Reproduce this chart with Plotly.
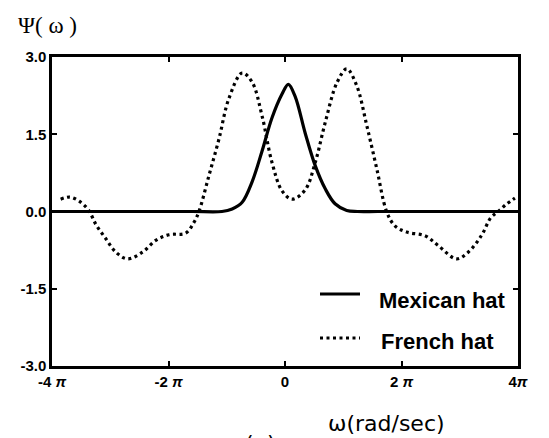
import numpy as np
import plotly.graph_objects as go

PI = np.pi

# Mexican hat spectrum (omega in rad/sec, amplitude)
mexican_w = [-4 * PI, -8.0, -5.0, -3.4, -2.85, -2.31, -1.77, -1.24, -0.70, -0.16,
             0.18, 0.55, 1.09, 1.63, 2.17, 2.70, 3.33, 3.9, 5.0, 8.0, 4 * PI]
mexican_psi = [0.0, 0.0, 0.0, 0.0, 0.05, 0.18, 0.58, 1.17, 1.82, 2.28,
               2.47, 2.23, 1.52, 0.89, 0.44, 0.15, 0.02, 0.0, 0.0, 0.0, 0.0]

# French hat spectrum
french_w = [-12.1, -11.6, -11.1, -10.6, -10.2, -9.66, -9.12, -8.49, -7.69, -6.97,
            -6.25, -5.36, -4.91, -4.64, -4.10, -3.56, -3.03, -2.31, -1.77, -1.24,
            -0.70, -0.16, 0.38, 1.09, 1.63, 2.17, 2.80, 3.33, 3.87, 4.41,
            4.95, 5.48, 5.93, 6.56, 7.54, 8.26, 9.25, 9.88, 10.59, 11.1,
            11.5, 11.9, 12.4]
french_psi = [0.24, 0.28, 0.20, 0.03, -0.25, -0.53, -0.79, -0.92, -0.79, -0.56,
              -0.45, -0.42, -0.21, 0.0, 0.70, 1.41, 2.19, 2.69, 2.51, 1.86,
              0.95, 0.40, 0.24, 0.42, 0.95, 1.73, 2.50, 2.77, 2.44, 1.67,
              0.83, 0.0, -0.28, -0.40, -0.47, -0.66, -0.92, -0.79, -0.47, -0.12,
              0.0, 0.13, 0.26]

x_tickvals = [-4 * PI, -2 * PI, 0, 2 * PI, 4 * PI]
x_ticktext = ["-4 <i>π</i>", "-2 <i>π</i>", "0", "2 <i>π</i>", "4<i>π</i>"]
y_tickvals = [-3.0, -1.5, 0.0, 1.5, 3.0]
y_ticktext = ["-3.0", "-1.5", "0.0", "1.5", "3.0"]

series_names = ["Mexican hat", "French hat"]

W, H = 549, 438
ML, MR, MT, MB = 52, 31, 57, 72
PW, PH = W - ML - MR, H - MT - MB


def px(x):
    return (x - ML) / PW


def py(y):
    return (H - MB - y) / PH


TICK_FONT = dict(family="Liberation Sans, Arial, sans-serif", size=15, color="black", weight="bold")
LEGEND_FONT = dict(family="Liberation Sans, Arial, sans-serif", size=22, color="black", weight="bold")
PSI_FONT = dict(family="Liberation Serif, DejaVu Serif, serif", size=23, color="black")
XTITLE_FONT = dict(family="DejaVu Sans, sans-serif", size=22, color="black")

mexican_line = dict(color="black", width=3.2)
french_line = dict(color="black", width=3.2, dash="3px,3.5px")

fig = go.Figure()
fig.add_trace(go.Scatter(x=mexican_w, y=mexican_psi, mode="lines", name=series_names[0],
                         line=dict(shape="spline", smoothing=1.0, **mexican_line),
                         showlegend=False))
fig.add_trace(go.Scatter(x=french_w, y=french_psi, mode="lines", name=series_names[1],
                         line=dict(shape="spline", smoothing=1.0, **french_line),
                         showlegend=False))

axis_common = dict(showline=True, linecolor="black", linewidth=2.5, mirror="ticks",
                   ticks="inside", ticklen=5, tickwidth=2, tickcolor="black",
                   showgrid=False, zeroline=False, tickfont=TICK_FONT)

fig.update_xaxes(range=[-4 * PI, 4 * PI], tickmode="array", tickvals=x_tickvals,
                 ticktext=x_ticktext, **axis_common)
fig.update_yaxes(range=[-3.0, 3.0], tickmode="array", tickvals=y_tickvals,
                 ticktext=y_ticktext, **axis_common)

# hand-drawn legend in the lower-right corner of the frame
shapes = [
    dict(type="line", xref="paper", yref="paper", x0=px(320), x1=px(360), y0=py(294), y1=py(294),
         line=mexican_line),
    dict(type="line", xref="paper", yref="paper", x0=px(320), x1=px(360), y0=py(338), y1=py(338),
         line=french_line),
]
annotations = [
    dict(text=series_names[0], xref="paper", yref="paper", x=px(377), y=py(300),
         xanchor="left", yanchor="middle", showarrow=False, font=LEGEND_FONT),
    dict(text=series_names[1], xref="paper", yref="paper", x=px(379), y=py(341),
         xanchor="left", yanchor="middle", showarrow=False, font=LEGEND_FONT),
    dict(text="Ψ( ω )", xref="paper", yref="paper", x=px(16), y=py(26),
         xanchor="left", yanchor="middle", showarrow=False, font=PSI_FONT),
    dict(text="ω(rad/sec)", xref="paper", yref="paper", x=px(386), y=py(423),
         xanchor="center", yanchor="middle", showarrow=False, font=XTITLE_FONT),
    # panel label, sitting at the lower page edge
    dict(text="(a)", xref="paper", yref="paper", x=px(260), y=py(443),
         xanchor="center", yanchor="middle", showarrow=False, font=XTITLE_FONT),
]

fig.update_layout(
    width=W, height=H,
    margin=dict(l=ML, r=MR, t=MT, b=MB, pad=0),
    paper_bgcolor="white", plot_bgcolor="white",
    shapes=shapes, annotations=annotations,
    showlegend=False,
)

fig.write_html("out.html", config={"displayModeBar": False})
